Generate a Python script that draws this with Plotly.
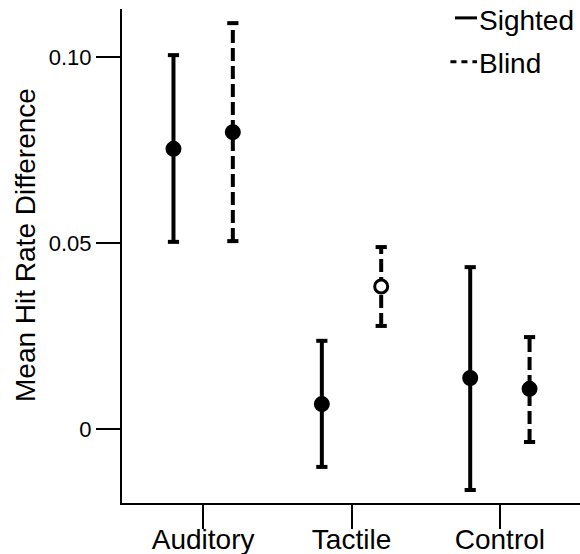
import plotly.graph_objects as go

categories = ["Auditory", "Tactile", "Control"]
sighted_mean = [0.0753, 0.0067, 0.0137]
sighted_low = [0.0503, -0.0102, -0.0164]
sighted_high = [0.1005, 0.0237, 0.0435]
blind_mean = [0.0798, 0.0383, 0.0108]
blind_low = [0.0505, 0.0277, -0.0035]
blind_high = [0.1091, 0.0489, 0.0247]
blind_hollow = [False, True, False]

y_tickvals = [0, 0.05, 0.10]
y_ticktext = ["0", "0.05", "0.10"]

FONT = "Liberation Sans, Arial, sans-serif"
cat_pos = [1, 2, 3]
OFF = 0.2


def segs(xs, lo, hi):
    X, Y = [], []
    for x, a, b in zip(xs, lo, hi):
        X += [x, x, None]
        Y += [a, b, None]
    return X, Y


fig = go.Figure()

for means, lo, hi, off, dash, hollow in [
    (sighted_mean, sighted_low, sighted_high, -OFF, "solid", [False] * 3),
    (blind_mean, blind_low, blind_high, OFF, "13px,5px", blind_hollow),
]:
    xs = [c + off for c in cat_pos]
    X, Y = segs(xs, lo, hi)
    fig.add_trace(go.Scatter(x=X, y=Y, mode="lines",
                             line=dict(color="black", width=4, dash=dash),
                             showlegend=False, hoverinfo="skip"))
    fig.add_trace(go.Scatter(x=xs + xs, y=list(lo) + list(hi), mode="markers",
                             marker=dict(symbol="line-ew", size=8,
                                         line=dict(color="black", width=4)),
                             showlegend=False, hoverinfo="skip"))
    fig.add_trace(go.Scatter(x=xs, y=means, mode="markers",
                             marker=dict(symbol="circle", size=13,
                                         color=["white" if h else "black" for h in hollow],
                                         line=dict(color="black", width=3)),
                             showlegend=False))

# legend (manual)
LX0, LX1 = (455 - 122) / 458, (477 - 122) / 458
fig.add_shape(type="line", xref="paper", yref="paper", x0=LX0, x1=LX1,
              y0=0.982, y1=0.982, line=dict(color="black", width=3))
fig.add_shape(type="line", xref="paper", yref="paper", x0=LX0 - 0.01, x1=LX1,
              y0=0.893, y1=0.893, line=dict(color="black", width=3, dash="6px,5px"))
fig.add_annotation(xref="paper", yref="paper", x=LX1, y=0.976, text="Sighted",
                   showarrow=False, xanchor="left", yanchor="middle",
                   font=dict(family=FONT, size=28, color="black"))
fig.add_annotation(xref="paper", yref="paper", x=LX1, y=0.889, text="Blind",
                   showarrow=False, xanchor="left", yanchor="middle",
                   font=dict(family=FONT, size=28, color="black"))

# y-axis title
fig.add_annotation(xref="paper", yref="paper", x=(26 - 122) / 458, y=(503 - 245) / 494,
                   text="Mean Hit Rate Difference", textangle=-90, showarrow=False,
                   xanchor="center", yanchor="middle",
                   font=dict(family=FONT, size=28, color="black"))

fig.update_layout(
    width=580, height=554,
    margin=dict(l=122, r=0, t=9, b=51),
    plot_bgcolor="white", paper_bgcolor="white",
    font=dict(family=FONT, size=22, color="black"),
    showlegend=False,
)
fig.update_xaxes(range=[0.453, 3.54], tickvals=cat_pos, ticktext=categories,
                 showgrid=False, zeroline=False, showline=True, linecolor="black",
                 linewidth=2, ticks="outside", ticklen=24, tickwidth=2,
                 tickcolor="black", tickfont=dict(size=28), automargin=False,
                 ticklabelstandoff=-14)
fig.update_yaxes(range=[-0.0199, 0.1129], tickvals=y_tickvals, ticktext=y_ticktext,
                 showgrid=False, zeroline=False, showline=True, linecolor="black",
                 linewidth=2, ticks="outside", ticklen=24, tickwidth=2,
                 tickcolor="black", tickfont=dict(size=22), automargin=False)

fig.write_html("out.html")
